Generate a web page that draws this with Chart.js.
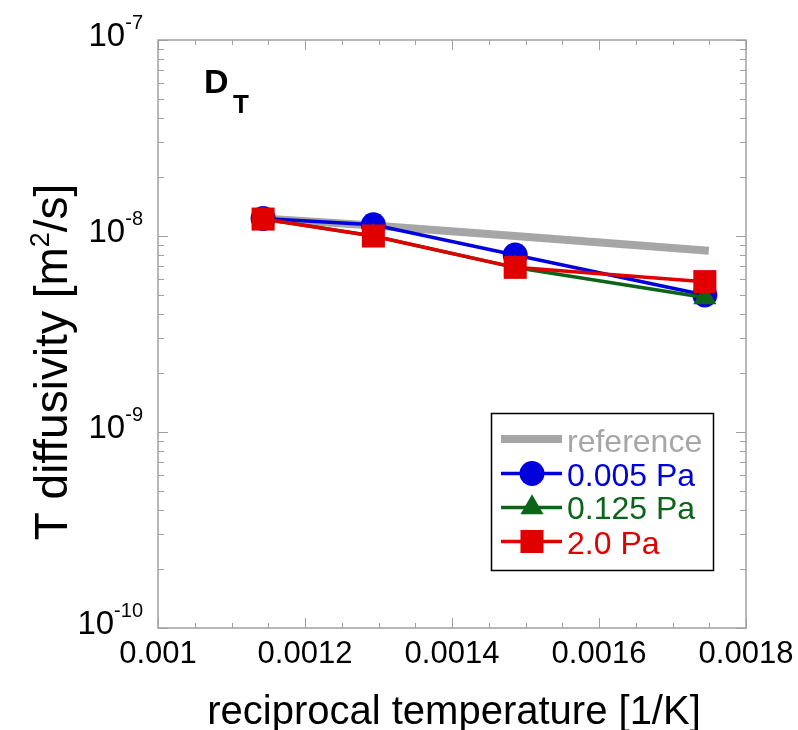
<!DOCTYPE html>
<html><head><meta charset="utf-8">
<script src="https://cdn.jsdelivr.net/npm/chart.js@4.4.1/dist/chart.umd.min.js"></script>
<style>html,body{margin:0;padding:0;background:#fff;}#wrap{width:798px;height:730px;}</style>
</head><body><div id="wrap"><canvas id="c" width="798" height="730"></canvas></div>
<script>
// ---- data ----
const recipT = [0.001143, 0.001293, 0.001486, 0.001744];     // 1/K
const refD   = [1.23e-8, 1.13e-8, 1.0e-8, 8.45e-9];           // reference
const d0005  = [1.23e-8, 1.14e-8, 8.0e-9, 5.0e-9];            // 0.005 Pa
const d0125  = [1.22e-8, 1.0e-8, 6.9e-9, 4.85e-9];            // 0.125 Pa
const d20    = [1.22e-8, 1.0e-8, 6.92e-9, 5.85e-9];           // 2.0 Pa
const xTickVals   = [0.001, 0.0012, 0.0014, 0.0016, 0.0018];
const xTickLabels = ['0.001', '0.0012', '0.0014', '0.0016', '0.0018'];
const yTickExps   = [-7, -8, -9, -10];
const seriesNames = ['reference', '0.005 Pa', '0.125 Pa', '2.0 Pa'];
const xTitle = 'reciprocal temperature [1/K]';

const FONT = '"Liberation Sans", Arial, Helvetica, sans-serif';
const GRAY = '#a6a6a6', BLUE = '#0000dd', GREEN = '#0b6418', RED = '#e00000';
const toPts = ys => recipT.map((x, i) => ({x: x, y: ys[i]}));

const styles = [
  {color: GRAY, width: 8, style: false, r: 0},
  {color: BLUE, width: 3.5, style: 'circle', r: 12.5},
  {color: GREEN, width: 3.5, style: 'triangle', r: 13.3},
  {color: RED, width: 3.5, style: 'rect', r: 16.3}
];

function drawMarker(ctx, st, x, y) {
  if (!st.style) return;
  ctx.save();
  ctx.fillStyle = st.color;
  ctx.beginPath();
  if (st.style === 'circle') {
    ctx.arc(x, y, st.r, 0, Math.PI * 2);
  } else if (st.style === 'triangle') {
    ctx.moveTo(x, y - st.r);
    ctx.lineTo(x + st.r * Math.sin(Math.PI * 2 / 3), y - st.r * Math.cos(Math.PI * 2 / 3));
    ctx.lineTo(x + st.r * Math.sin(Math.PI * 4 / 3), y - st.r * Math.cos(Math.PI * 4 / 3));
    ctx.closePath();
  } else {
    const s = Math.SQRT1_2 * st.r;
    ctx.rect(x - s, y - s, 2 * s, 2 * s);
  }
  ctx.fill();
  ctx.restore();
}

const axesPlugin = {
  id: 'axesPlugin',
  beforeDatasetsDraw(chart) {
    const ctx = chart.ctx, a = chart.chartArea;
    const xs = chart.scales.x, ys = chart.scales.y;
    ctx.save();
    ctx.strokeStyle = '#a0a0a0';
    ctx.lineWidth = 1.5;
    ctx.strokeRect(a.left, a.top, a.right - a.left, a.bottom - a.top);
    ctx.lineWidth = 1;
    ctx.beginPath();
    for (let k = 0; k <= 16; k++) {
      const v = 0.001 + k * 0.00005;
      const px = Math.round(xs.getPixelForValue(v)) + 0.5;
      const len = (k % 4 === 0) ? 10 : 5;
      ctx.moveTo(px, a.bottom); ctx.lineTo(px, a.bottom - len);
      ctx.moveTo(px, a.top); ctx.lineTo(px, a.top + len);
    }
    for (let e = -10; e <= -7; e++) {
      for (let m = 1; m <= 9; m++) {
        if (e === -7 && m > 1) break;
        const v = m * Math.pow(10, e);
        const py = Math.round(ys.getPixelForValue(v)) + 0.5;
        const len = (m === 1) ? 10 : 6;
        ctx.moveTo(a.left, py); ctx.lineTo(a.left + len, py);
        ctx.moveTo(a.right, py); ctx.lineTo(a.right - len, py);
      }
    }
    ctx.stroke();
    ctx.restore();
  },
  afterDraw(chart) {
    const ctx = chart.ctx, a = chart.chartArea;
    const xs = chart.scales.x, ys = chart.scales.y;
    ctx.save();
    ctx.fillStyle = '#000';
    ctx.font = '31px ' + FONT;
    ctx.textAlign = 'center';
    ctx.textBaseline = 'alphabetic';
    xTickVals.forEach((v, i) => {
      ctx.fillText(xTickLabels[i], xs.getPixelForValue(v), 663);
    });
    yTickExps.forEach(e => {
      const py = ys.getPixelForValue(Math.pow(10, e));
      const sup = String(e);
      ctx.font = '20px ' + FONT;
      const wSup = ctx.measureText(sup).width;
      const rightEdge = a.left - 15;
      ctx.textAlign = 'left';
      ctx.fillText(sup, rightEdge - wSup, py - 11);
      ctx.font = '33px ' + FONT;
      const wBase = ctx.measureText('10').width;
      ctx.fillText('10', rightEdge - wSup - wBase, py + 6);
    });
    ctx.font = '40px ' + FONT;
    ctx.textAlign = 'center';
    ctx.fillText(xTitle, 454, 724);
    ctx.save();
    ctx.translate(67, 362);
    ctx.rotate(-Math.PI / 2);
    const p1 = 'T diffusivity [m', p2 = '2', p3 = '/s]';
    ctx.font = '46px ' + FONT;
    const w1 = ctx.measureText(p1).width, w3 = ctx.measureText(p3).width;
    ctx.font = '27px ' + FONT;
    const w2 = ctx.measureText(p2).width;
    let x0 = -(w1 + w2 + w3) / 2;
    ctx.textAlign = 'left';
    ctx.font = '46px ' + FONT;
    ctx.fillText(p1, x0, 0);
    ctx.font = '27px ' + FONT;
    ctx.fillText(p2, x0 + w1, -18);
    ctx.font = '46px ' + FONT;
    ctx.fillText(p3, x0 + w1 + w2, 0);
    ctx.restore();
    ctx.textAlign = 'left';
    ctx.font = 'bold 34px ' + FONT;
    ctx.fillText('D', 204, 93);
    ctx.font = 'bold 26px ' + FONT;
    ctx.fillText('T', 233, 113);
    ctx.strokeStyle = '#000';
    ctx.lineWidth = 1.5;
    ctx.strokeRect(491.5, 413.5, 222, 157);
    const rowY = [439, 473.5, 507.5, 541.5];
    const baseY = [452, 486, 519, 554];
    seriesNames.forEach((name, i) => {
      const st = styles[i];
      ctx.strokeStyle = st.color;
      ctx.lineWidth = st.width;
      ctx.beginPath();
      ctx.moveTo(501, rowY[i]); ctx.lineTo(562, rowY[i]);
      ctx.stroke();
      drawMarker(ctx, st, 532, rowY[i]);
      ctx.fillStyle = st.color;
      ctx.font = '32px ' + FONT;
      ctx.textAlign = 'left';
      ctx.fillText(name, 567, baseY[i]);
    });
    ctx.restore();
  }
};

const datasets = [
  {label: seriesNames[3], data: toPts(d20), borderColor: RED, backgroundColor: RED, borderWidth: 3.5,
   pointStyle: 'rect', pointRadius: 16.3, pointBorderWidth: 0, pointBackgroundColor: RED, order: 1},
  {label: seriesNames[2], data: toPts(d0125), borderColor: GREEN, backgroundColor: GREEN, borderWidth: 3.5,
   pointStyle: 'triangle', pointRadius: 13.3, pointBorderWidth: 0, pointBackgroundColor: GREEN, order: 2},
  {label: seriesNames[1], data: toPts(d0005), borderColor: BLUE, backgroundColor: BLUE, borderWidth: 3.5,
   pointStyle: 'circle', pointRadius: 12.5, pointBorderWidth: 0, pointBackgroundColor: BLUE, order: 3},
  {label: seriesNames[0], data: toPts(refD), borderColor: GRAY, backgroundColor: GRAY, borderWidth: 8,
   pointRadius: 0, borderCapStyle: 'square', order: 4}
];

new Chart(document.getElementById('c'), {
  type: 'line',
  data: {datasets: datasets},
  options: {
    responsive: false,
    devicePixelRatio: 1,
    animation: false,
    layout: {padding: {left: 158, right: 52, top: 40, bottom: 102}},
    scales: {
      x: {type: 'linear', min: 0.001, max: 0.0018, display: false},
      y: {type: 'logarithmic', min: 1e-10, max: 1e-7, display: false}
    },
    elements: {line: {tension: 0}},
    plugins: {legend: {display: false}, tooltip: {enabled: false}},
    events: []
  },
  plugins: [axesPlugin]
});
</script>
</body></html>
